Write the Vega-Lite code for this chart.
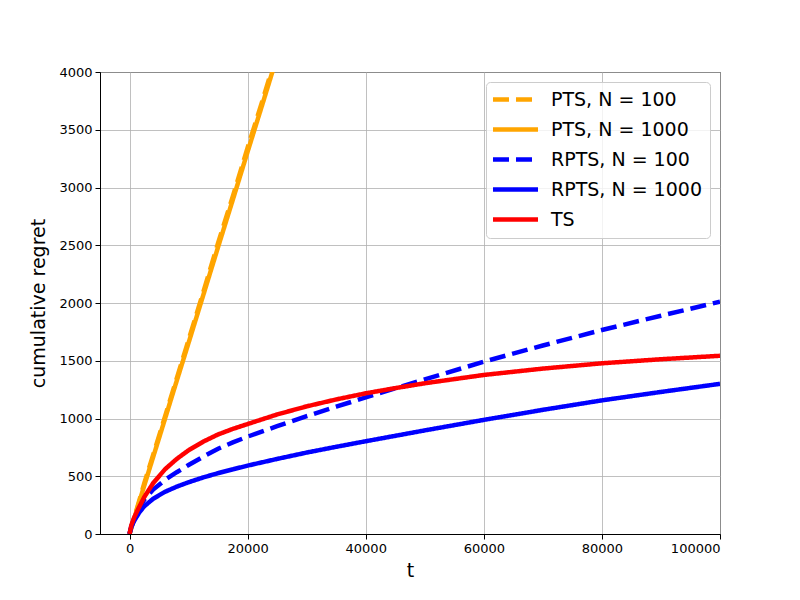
{
  "$schema": "https://vega.github.io/schema/vega-lite/v6.json",
  "autosize": "none",
  "padding": {"left": 100, "top": 72, "right": 80, "bottom": 66},
  "width": 620,
  "height": 462,
  "background": "white",
  "config": {
    "font": "DejaVu Sans",
    "view": {"stroke": "black", "strokeWidth": 1},
    "axis": {
      "grid": true,
      "gridColor": "#b0b0b0",
      "gridWidth": 0.8,
      "domainColor": "black",
      "tickColor": "black",
      "tickSize": 5,
      "labelFontSize": 13,
      "labelColor": "black",
      "labelPadding": 3,
      "titleFontSize": 19,
      "titleFontWeight": "normal",
      "titleColor": "black"
    }
  },
  "data": {"values": [
    {"series": "PTS, N = 100", "t": 0, "regret": 0},
    {"series": "PTS, N = 100", "t": 2500, "regret": 440},
    {"series": "PTS, N = 100", "t": 5000, "regret": 850},
    {"series": "PTS, N = 100", "t": 7500, "regret": 1265},
    {"series": "PTS, N = 100", "t": 10000, "regret": 1680},
    {"series": "PTS, N = 100", "t": 12500, "regret": 2095},
    {"series": "PTS, N = 100", "t": 15000, "regret": 2520},
    {"series": "PTS, N = 100", "t": 17500, "regret": 2925},
    {"series": "PTS, N = 100", "t": 20000, "regret": 3345},
    {"series": "PTS, N = 100", "t": 22500, "regret": 3750},
    {"series": "PTS, N = 100", "t": 25000, "regret": 4170},
    {"series": "PTS, N = 100", "t": 27500, "regret": 4580},
    {"series": "PTS, N = 1000", "t": 0, "regret": 0},
    {"series": "PTS, N = 1000", "t": 2500, "regret": 420},
    {"series": "PTS, N = 1000", "t": 5000, "regret": 830},
    {"series": "PTS, N = 1000", "t": 7500, "regret": 1245},
    {"series": "PTS, N = 1000", "t": 10000, "regret": 1655},
    {"series": "PTS, N = 1000", "t": 12500, "regret": 2070},
    {"series": "PTS, N = 1000", "t": 15000, "regret": 2485},
    {"series": "PTS, N = 1000", "t": 17500, "regret": 2895},
    {"series": "PTS, N = 1000", "t": 20000, "regret": 3310},
    {"series": "PTS, N = 1000", "t": 22500, "regret": 3720},
    {"series": "PTS, N = 1000", "t": 25000, "regret": 4135},
    {"series": "PTS, N = 1000", "t": 27500, "regret": 4545},
    {"series": "RPTS, N = 100", "t": 0, "regret": 0},
    {"series": "RPTS, N = 100", "t": 300, "regret": 65},
    {"series": "RPTS, N = 100", "t": 800, "regret": 130},
    {"series": "RPTS, N = 100", "t": 1500, "regret": 210},
    {"series": "RPTS, N = 100", "t": 2500, "regret": 298},
    {"series": "RPTS, N = 100", "t": 4000, "regret": 385},
    {"series": "RPTS, N = 100", "t": 6000, "regret": 468},
    {"series": "RPTS, N = 100", "t": 8000, "regret": 535},
    {"series": "RPTS, N = 100", "t": 10000, "regret": 597},
    {"series": "RPTS, N = 100", "t": 12500, "regret": 670},
    {"series": "RPTS, N = 100", "t": 15000, "regret": 738},
    {"series": "RPTS, N = 100", "t": 17500, "regret": 793},
    {"series": "RPTS, N = 100", "t": 20000, "regret": 843},
    {"series": "RPTS, N = 100", "t": 25000, "regret": 933},
    {"series": "RPTS, N = 100", "t": 30000, "regret": 1020},
    {"series": "RPTS, N = 100", "t": 35000, "regret": 1102},
    {"series": "RPTS, N = 100", "t": 40000, "regret": 1183},
    {"series": "RPTS, N = 100", "t": 45000, "regret": 1262},
    {"series": "RPTS, N = 100", "t": 50000, "regret": 1338},
    {"series": "RPTS, N = 100", "t": 60000, "regret": 1492},
    {"series": "RPTS, N = 100", "t": 70000, "regret": 1632},
    {"series": "RPTS, N = 100", "t": 80000, "regret": 1766},
    {"series": "RPTS, N = 100", "t": 90000, "regret": 1890},
    {"series": "RPTS, N = 100", "t": 100000, "regret": 2011},
    {"series": "RPTS, N = 1000", "t": 0, "regret": 0},
    {"series": "RPTS, N = 1000", "t": 300, "regret": 60},
    {"series": "RPTS, N = 1000", "t": 800, "regret": 115},
    {"series": "RPTS, N = 1000", "t": 1700, "regret": 190},
    {"series": "RPTS, N = 1000", "t": 2500, "regret": 240},
    {"series": "RPTS, N = 1000", "t": 4000, "regret": 305},
    {"series": "RPTS, N = 1000", "t": 6000, "regret": 365},
    {"series": "RPTS, N = 1000", "t": 8000, "regret": 410},
    {"series": "RPTS, N = 1000", "t": 10000, "regret": 448},
    {"series": "RPTS, N = 1000", "t": 12500, "regret": 490},
    {"series": "RPTS, N = 1000", "t": 15000, "regret": 527},
    {"series": "RPTS, N = 1000", "t": 17500, "regret": 560},
    {"series": "RPTS, N = 1000", "t": 20000, "regret": 592},
    {"series": "RPTS, N = 1000", "t": 25000, "regret": 650},
    {"series": "RPTS, N = 1000", "t": 30000, "regret": 705},
    {"series": "RPTS, N = 1000", "t": 35000, "regret": 755},
    {"series": "RPTS, N = 1000", "t": 40000, "regret": 803},
    {"series": "RPTS, N = 1000", "t": 50000, "regret": 897},
    {"series": "RPTS, N = 1000", "t": 60000, "regret": 988},
    {"series": "RPTS, N = 1000", "t": 70000, "regret": 1075},
    {"series": "RPTS, N = 1000", "t": 80000, "regret": 1157},
    {"series": "RPTS, N = 1000", "t": 90000, "regret": 1230},
    {"series": "RPTS, N = 1000", "t": 100000, "regret": 1300},
    {"series": "TS", "t": 0, "regret": 0},
    {"series": "TS", "t": 300, "regret": 75},
    {"series": "TS", "t": 800, "regret": 145},
    {"series": "TS", "t": 1500, "regret": 220},
    {"series": "TS", "t": 2500, "regret": 320},
    {"series": "TS", "t": 4000, "regret": 440},
    {"series": "TS", "t": 6000, "regret": 560},
    {"series": "TS", "t": 8000, "regret": 650},
    {"series": "TS", "t": 10000, "regret": 725},
    {"series": "TS", "t": 12500, "regret": 800},
    {"series": "TS", "t": 15000, "regret": 862},
    {"series": "TS", "t": 17500, "regret": 910},
    {"series": "TS", "t": 20000, "regret": 952},
    {"series": "TS", "t": 25000, "regret": 1035},
    {"series": "TS", "t": 30000, "regret": 1105},
    {"series": "TS", "t": 35000, "regret": 1165},
    {"series": "TS", "t": 40000, "regret": 1218},
    {"series": "TS", "t": 45000, "regret": 1263},
    {"series": "TS", "t": 50000, "regret": 1305},
    {"series": "TS", "t": 60000, "regret": 1377},
    {"series": "TS", "t": 70000, "regret": 1432},
    {"series": "TS", "t": 80000, "regret": 1478},
    {"series": "TS", "t": 90000, "regret": 1513},
    {"series": "TS", "t": 100000, "regret": 1543}
  ]},
  "mark": {"type": "line", "strokeWidth": 4.5, "clip": true},
  "encoding": {
    "x": {
      "field": "t",
      "type": "quantitative",
      "scale": {"domain": [-5000, 100000], "nice": false, "zero": false},
      "axis": {"title": "t", "values": [0, 20000, 40000, 60000, 80000, 100000], "format": "d", "titlePadding": 6}
    },
    "y": {
      "field": "regret",
      "type": "quantitative",
      "scale": {"domain": [0, 4000], "nice": false},
      "axis": {"title": "cumulative regret", "values": [0, 500, 1000, 1500, 2000, 2500, 3000, 3500, 4000], "format": "d", "titlePadding": 10}
    },
    "color": {
      "field": "series",
      "type": "nominal",
      "scale": {
        "domain": ["PTS, N = 100", "PTS, N = 1000", "RPTS, N = 100", "RPTS, N = 1000", "TS"],
        "range": ["orange", "orange", "blue", "blue", "red"]
      },
      "legend": {
        "title": null,
        "orient": "top-right",
        "offset": 10,
        "symbolType": "M-1.45,0H4.76",
        "symbolSize": 210,
        "symbolStrokeWidth": 4.5,
        "labelFontSize": 19,
        "labelColor": "black",
        "labelLimit": 300,
        "labelOffset": 38,
        "fillColor": "rgba(255,255,255,0.8)",
        "strokeColor": "#cccccc",
        "cornerRadius": 4,
        "padding": 8,
        "rowPadding": 10
      }
    },
    "strokeDash": {
      "field": "series",
      "type": "nominal",
      "scale": {
        "domain": ["PTS, N = 100", "PTS, N = 1000", "RPTS, N = 100", "RPTS, N = 1000", "TS"],
        "range": [[16, 7], [1, 0], [16, 7], [1, 0], [1, 0]]
      },
      "legend": {"title": null}
    }
  }
}
